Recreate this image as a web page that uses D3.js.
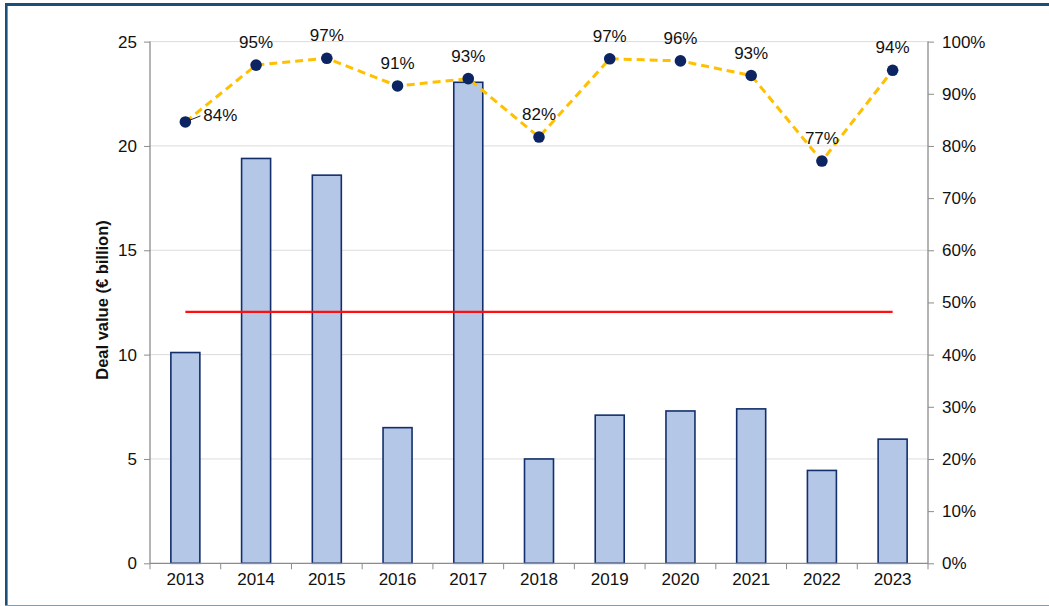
<!DOCTYPE html>
<html><head><meta charset="utf-8">
<script src="https://cdn.jsdelivr.net/npm/d3@7"></script>
<style>body{margin:0;background:#fff}svg{display:block}text{font-family:"Liberation Sans",Arial,sans-serif}</style>
</head><body>
<svg id="c" width="1049" height="606"></svg>
<script>
const years = ["2013","2014","2015","2016","2017","2018","2019","2020","2021","2022","2023"];
const dealValue = [10.1,19.4,18.6,6.5,23.05,5.0,7.1,7.3,7.4,4.45,5.95];
const share = [84.6,95.5,96.8,91.5,92.9,81.7,96.7,96.3,93.5,77.1,94.5];
const shareLabels = ["84%","95%","97%","91%","93%","82%","97%","96%","93%","77%","94%"];
const threshold = 12.05;
const leftTicks = [0,5,10,15,20,25];
const rightTicks = [0,10,20,30,40,50,60,70,80,90,100];

const svg = d3.select("#c");
const L = 150, R = 928, T = 41.6, B = 563.3;
const x = d3.scaleBand().domain(years).range([L,R]).paddingInner(0.59).paddingOuter(0.295);
const xb = d3.scaleBand().domain(years).range([L,R]);
const y = d3.scaleLinear().domain([0,25]).range([B,T]);
const y2 = d3.scaleLinear().domain([0,100]).range([B,T]);
const FS = 17;

// frame
svg.append("line").attr("x1",5).attr("x2",1049).attr("y1",4.5).attr("y2",4.5).attr("stroke","#1b4f78").attr("stroke-width",3);
svg.append("line").attr("x1",6.3).attr("x2",6.3).attr("y1",3).attr("y2",606).attr("stroke","#1b4f78").attr("stroke-width",2.6);
svg.append("line").attr("x1",5).attr("x2",1049).attr("y1",605.5).attr("y2",605.5).attr("stroke","#7f9cae").attr("stroke-width",1.2);

// gridlines
svg.append("g").selectAll("line").data(leftTicks.filter(d=>d>0)).join("line")
  .attr("x1",L).attr("x2",R).attr("y1",d=>y(d)).attr("y2",d=>y(d))
  .attr("stroke","#dcdcdc").attr("stroke-width",1);

// bars
svg.append("g").selectAll("rect").data(years).join("rect")
  .attr("x",d=>x(d)).attr("width",x.bandwidth())
  .attr("y",(d,i)=>y(dealValue[i])).attr("height",(d,i)=>B-y(dealValue[i]))
  .attr("fill","#b4c7e7").attr("stroke","#132f6b").attr("stroke-width",1.6);

// axes
const axColor = "#8c8c8c";
const gl = svg.append("g").attr("transform",`translate(${L},0)`)
  .call(d3.axisLeft(y).tickValues(leftTicks).tickSize(6).tickPadding(7));
const gr = svg.append("g").attr("transform",`translate(${R},0)`)
  .call(d3.axisRight(y2).tickValues(rightTicks).tickSize(6).tickPadding(8).tickFormat(d=>d+"%"));
const gb = svg.append("g").attr("transform",`translate(0,${B})`)
  .call(d3.axisBottom(xb).tickSize(0).tickPadding(10));
gb.selectAll(".tick line").remove();
gb.append("g").selectAll("line").data(years.concat(["end"])).join("line")
  .attr("x1",(d,i)=>L+i*xb.step()).attr("x2",(d,i)=>L+i*xb.step()).attr("y1",0).attr("y2",6)
  .attr("stroke",axColor);
[gl,gr,gb].forEach(g=>{
  g.select(".domain").attr("stroke",axColor).attr("stroke-width",1.3);
  g.selectAll(".tick line").attr("stroke",axColor);
  g.selectAll("text").attr("font-size",FS).attr("fill","#111").attr("font-family","'Liberation Sans',Arial,sans-serif");
});
gl.select(".domain").attr("d",`M0,${B}V${T}`);
gr.select(".domain").attr("d",`M0,${B}V${T}`);
gb.select(".domain").attr("d",`M${L},0H${R}`);

// threshold line
svg.append("line").attr("x1",xb(years[0])+xb.step()/2).attr("x2",xb(years[years.length-1])+xb.step()/2)
  .attr("y1",y(threshold)).attr("y2",y(threshold)).attr("stroke","#ff1010").attr("stroke-width",2.2);

// share line
const cx = d=>xb(d)+xb.step()/2;
svg.append("path").datum(years)
  .attr("d",d3.line().x(d=>cx(d)).y((d,i)=>y2(share[i])))
  .attr("fill","none").attr("stroke","#ffc000").attr("stroke-width",3).attr("stroke-dasharray","8,5");

// leader for first label
svg.append("line").attr("x1",cx(years[0])).attr("y1",y2(share[0])).attr("x2",cx(years[0])+15).attr("y2",y2(share[0])-6)
  .attr("stroke","#222").attr("stroke-width",1);

svg.append("g").selectAll("circle").data(years).join("circle")
  .attr("cx",d=>cx(d)).attr("cy",(d,i)=>y2(share[i])).attr("r",5.8).attr("fill","#0c2461");

svg.append("g").selectAll("text").data(years).join("text")
  .attr("x",(d,i)=> i===0 ? cx(d)+18 : cx(d))
  .attr("y",(d,i)=> i===0 ? y2(share[i])-0.5 : y2(share[i])-17)
  .attr("text-anchor",(d,i)=> i===0 ? "start" : "middle")
  .attr("font-size",FS).attr("fill","#111")
  .text((d,i)=>shareLabels[i]);

// y title
svg.append("text").attr("transform",`translate(108,300) rotate(-90)`)
  .attr("text-anchor","middle").attr("font-size",16.5).attr("font-weight","bold").attr("fill","#111")
  .text("Deal value (€ billion)");
</script>
</body></html>
